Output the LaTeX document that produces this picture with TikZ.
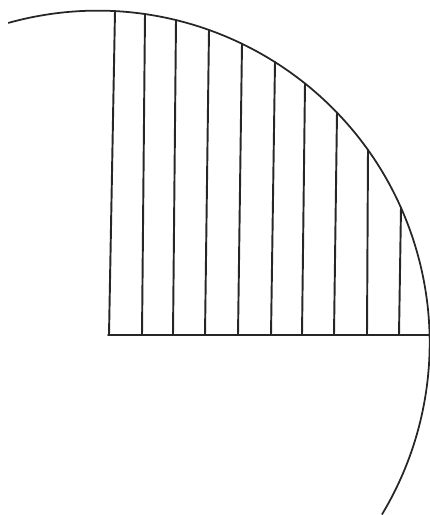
\documentclass[tikz,border=0pt]{standalone}
\usepackage{tikz}
\usetikzlibrary{calc}

\begin{document}
\begin{tikzpicture}[
    rim/.style={draw=black!85, line width=1.0pt},
    rib/.style={draw=black!85, line width=1.1pt, line cap=round}
]
    \useasboundingbox (0,0) rectangle (8.6,10.3);

    % circle
    \coordinate (centre) at (1.95,3.442);
    \def\rad{6.644}
    \draw[rim] (centre) ++(105.6:\rad) arc[start angle=105.6, end angle=-31.1, radius=\rad];

    % base line
    \coordinate (baseL) at (2.16,3.6);
    \coordinate (baseR) at (8.592,3.6);
    \draw[rib] (baseL) -- (baseR);

    % vertical ribs up to the circle
    \foreach \xb/\xt [count=\i] in {2.18/2.30, 2.84/2.90, 3.46/3.52, 4.10/4.18, 4.76/4.84,
                                    5.42/5.50, 6.04/6.10, 6.68/6.74, 7.34/7.36, 7.98/8.02} {
        \pgfmathsetmacro\yt{3.442 + sqrt(\rad*\rad - (\xt-1.95)*(\xt-1.95))}
        \coordinate (foot\i) at (\xb,3.6);
        \coordinate (top\i) at (\xt,\yt);
        \draw[rib] (foot\i) -- (top\i);
    }
\end{tikzpicture}
\end{document}
